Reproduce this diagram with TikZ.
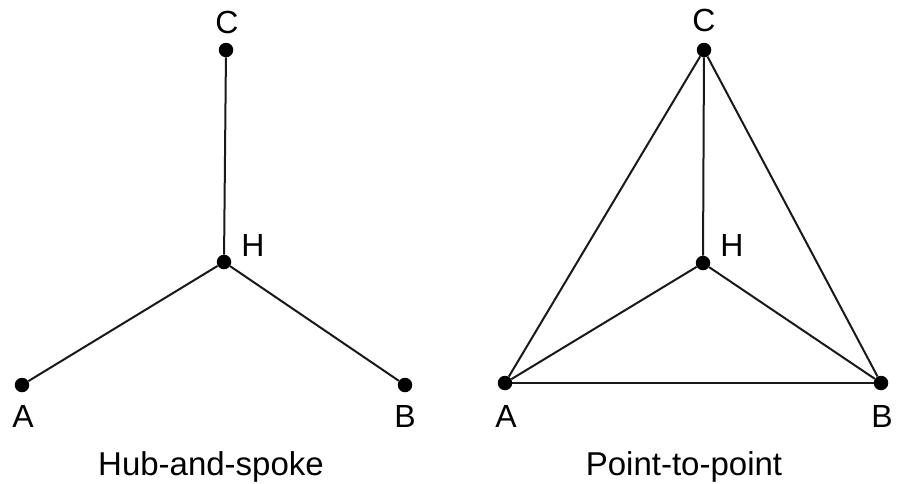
\documentclass[tikz,border=0pt]{standalone}
\usepackage{fontspec}
\setmainfont{Liberation Sans}
\begin{document}
\begin{tikzpicture}[x=1pt,y=-1pt,
  dot/.style={circle,fill=black,inner sep=0pt,minimum size=14.5pt},
  edge/.style={line width=2pt,black!90},
  lbl/.style={anchor=base,inner sep=0pt,font=\fontsize{32}{35}\selectfont},
  ttl/.style={anchor=base,inner sep=0pt,font=\fontsize{33}{36}\selectfont}]
\useasboundingbox (0,0) rectangle (910,483);
\clip (0,0) rectangle (910,483);
% left: hub-and-spoke
\node[dot] (lC) at (226,50) {};
\node[dot] (lH) at (224,262) {};
\node[dot] (lA) at (22,385) {};
\node[dot] (lB) at (405,385) {};
\draw[edge] (lC) -- (lH);
\draw[edge] (lH) -- (lA);
\draw[edge] (lH) -- (lB);
\node[lbl] (tlC) at (227,33) {C};
\node[lbl] (tlH) at (253,256) {H};
\node[lbl] (tlA) at (23,427) {A};
\node[lbl] (tlB) at (405,427) {B};
% right: point-to-point
\node[dot] (rC) at (704,50) {};
\node[dot] (rH) at (703,263) {};
\node[dot] (rA) at (505,383) {};
\node[dot] (rB) at (881,383) {};
\draw[edge] (rC) -- (rH);
\draw[edge] (rH) -- (rA);
\draw[edge] (rH) -- (rB);
\draw[edge] (rA) -- (rC);
\draw[edge] (rB) -- (rC);
\draw[edge] (rA) -- (rB);
\node[lbl] (trC) at (704,31) {C};
\node[lbl] (trH) at (732,256) {H};
\node[lbl] (trA) at (506,427) {A};
\node[lbl] (trB) at (882,427) {B};
% titles
\node[ttl] (t1) at (211,475) {Hub-and-spoke};
\node[ttl] (t2) at (684,475) {Point-to-point};
\end{tikzpicture}
\end{document}
